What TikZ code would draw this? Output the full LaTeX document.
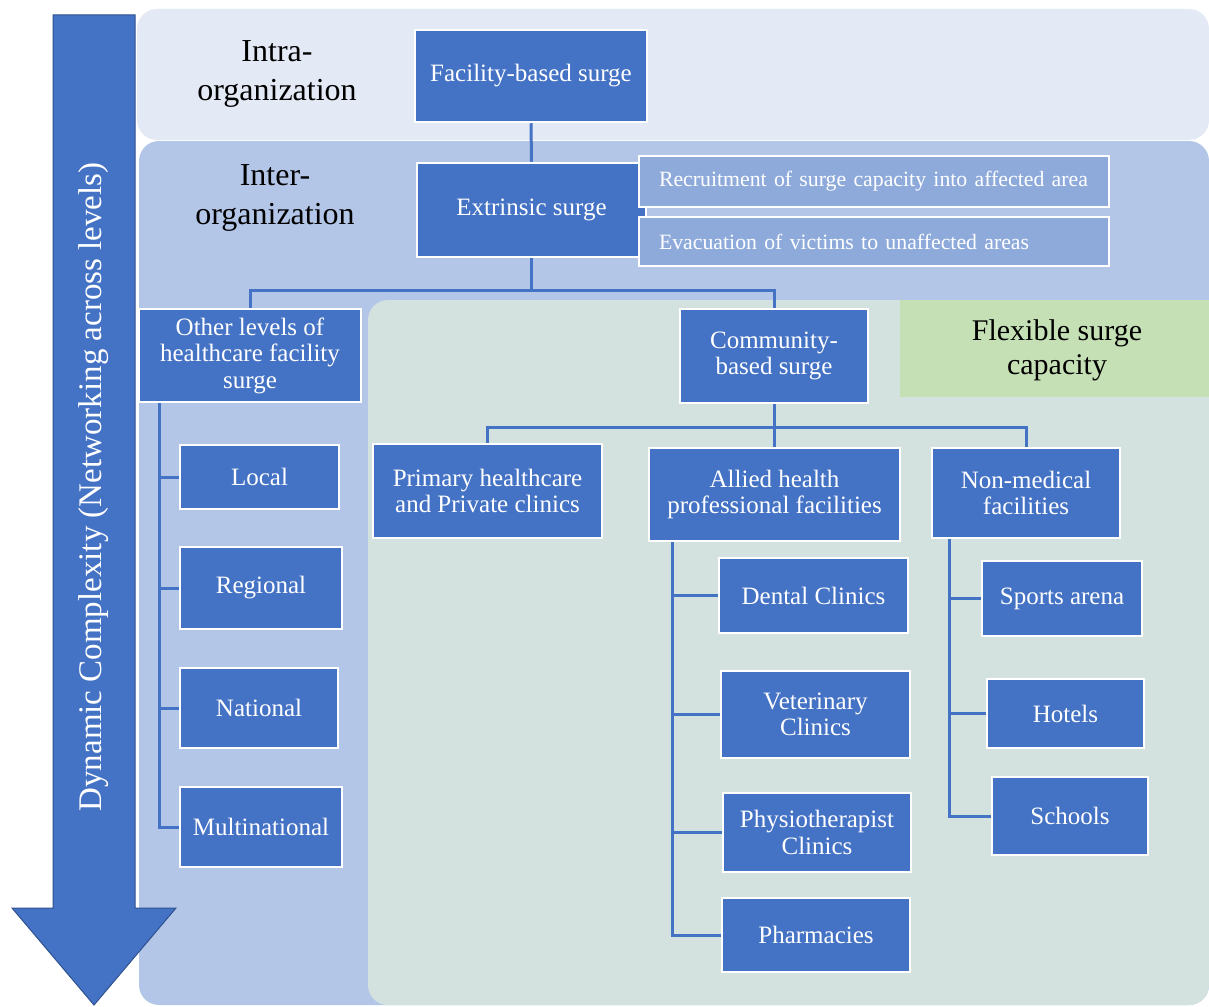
\documentclass[tikz,border=0pt]{standalone}
\usepackage{fontspec}
\setmainfont{Liberation Serif}
\definecolor{boxblue}{HTML}{4472C4}
\definecolor{lightbox}{HTML}{8EAADB}
\definecolor{intrabg}{HTML}{E3E9F5}
\definecolor{interbg}{HTML}{B3C6E7}
\definecolor{greenbg}{HTML}{D4E2DF}
\definecolor{flexbg}{HTML}{C5E0B4}
\definecolor{arrowedge}{HTML}{2F528F}
\pgfdeclarelayer{back}
\pgfdeclarelayer{mid}
\pgfsetlayers{back,mid,main}
\begin{document}
\begin{tikzpicture}[x=1pt,y=-1pt,
  box/.style={draw=white, line width=2.5pt, fill=boxblue, text=white, align=center, inner sep=0pt,
    font=\fontsize{25}{26.5}\selectfont},
  subbox/.style={draw=white, line width=1.5pt, fill=lightbox, text=white, align=left, inner xsep=20pt, inner ysep=0pt,
    text width=430pt, font=\fontsize{21.8}{24}\selectfont},
  conn/.style={draw=boxblue, line width=3pt},
  lvl/.style={align=center, text=black, inner sep=0pt, font=\fontsize{32}{39}\selectfont}]
\useasboundingbox (0,0) rectangle (1209,1006);
% panels
\begin{pgfonlayer}{back}
\fill[intrabg, rounded corners=20pt] (137,9) rectangle (1209,140);
\fill[interbg, rounded corners=20pt] (139,141) rectangle (1209,1005);
\fill[greenbg, rounded corners=20pt] (368,300) rectangle (1209,1005);
\fill[flexbg] (900,300) rectangle (1209,397);
\end{pgfonlayer}
\node[align=center, inner sep=0pt, font=\fontsize{30}{34}\selectfont] (flex) at (1057,350) {Flexible surge\\capacity};
% big arrow
\draw[fill=boxblue, draw=arrowedge, line width=1pt] (53,15) -- (135,15) -- (135,908) -- (176,908) -- (94,1005) -- (12,908) -- (53,908) -- cycle;
\node[rotate=90, text=white, inner sep=0pt, font=\fontsize{33}{36}\selectfont] (dyn) at (94,487) {Dynamic Complexity (Networking across levels)};
% level labels
\node[lvl] (intra) at (277,74) {Intra-\\organization};
\node[lvl] (inter) at (275,198) {Inter-\\organization};
% nodes
\node[box, minimum width=232pt, minimum height=92pt] (fac) at (531,76) {Facility-based surge};
\node[box, minimum width=229pt, minimum height=94pt] (ext) at (531.5,210) {Extrinsic surge};
\node[subbox, minimum height=51pt] (rec) at (874,181.5) {Recruitment of surge capacity into affected area};
\node[subbox, minimum height=49pt] (evac) at (874,241.5) {Evacuation of victims to unaffected areas};
\node[box, minimum width=222pt, minimum height=93pt] (other) at (250,355.5) {Other levels of\\healthcare facility\\surge};
\node[box, minimum width=188pt, minimum height=94pt] (comm) at (774,356) {Community-\\based surge};
\node[box, minimum width=159pt, minimum height=64pt] (local) at (259.5,477) {Local};
\node[box, minimum width=162pt, minimum height=82pt] (regional) at (261,588) {Regional};
\node[box, minimum width=158pt, minimum height=80pt] (national) at (259,708) {National};
\node[box, minimum width=162pt, minimum height=80pt] (multi) at (261,827) {Multinational};
\node[box, minimum width=229pt, minimum height=94pt] (primary) at (487.5,491) {Primary healthcare\\and Private clinics};
\node[box, minimum width=251pt, minimum height=93pt] (allied) at (774.5,494.5) {Allied health\\professional facilities};
\node[box, minimum width=188pt, minimum height=90pt] (nonmed) at (1026,493) {Non-medical\\facilities};
\node[box, minimum width=189pt, minimum height=75pt] (dental) at (813.5,595.5) {Dental Clinics};
\node[box, minimum width=189pt, minimum height=87pt] (vet) at (815.5,714.5) {Veterinary\\Clinics};
\node[box, minimum width=188pt, minimum height=79pt] (physio) at (817,832.5) {Physiotherapist\\Clinics};
\node[box, minimum width=188pt, minimum height=74pt] (pharm) at (816,935) {Pharmacies};
\node[box, minimum width=160pt, minimum height=75pt] (sports) at (1062,598.5) {Sports arena};
\node[box, minimum width=157pt, minimum height=69pt] (hotels) at (1065.5,713.5) {Hotels};
\node[box, minimum width=156pt, minimum height=78pt] (schools) at (1070,816) {Schools};
% connectors
\begin{pgfonlayer}{mid}
\draw[conn] (fac.south) -- (ext.north);
\draw[conn] (ext.south) -- ++(0,32) coordinate (j1);
\draw[conn] (j1) -| (other.north);
\draw[conn] (j1) -| (comm.north);
\draw[conn] (comm.south) -- ++(0,23) coordinate (j2);
\draw[conn] (j2) -| (primary.north);
\draw[conn] (j2) -| (allied.north);
\draw[conn] (j2) -| (nonmed.north);
\draw[draw=boxblue, line width=1.5pt] ([xshift=6pt]rec.south west) -- ([xshift=6pt]evac.north west);
\coordinate (oa) at ([xshift=22pt]other.south west);
\draw[conn] (oa) |- (local.west);
\draw[conn] (oa) |- (regional.west);
\draw[conn] (oa) |- (national.west);
\draw[conn] (oa) |- (multi.west);
\coordinate (aa) at ([xshift=25pt]allied.south west);
\draw[conn] (aa) |- (dental.west);
\draw[conn] (aa) |- (vet.west);
\draw[conn] (aa) |- (physio.west);
\draw[conn] (aa) |- (pharm.west);
\coordinate (na) at ([xshift=19pt]nonmed.south west);
\draw[conn] (na) |- (sports.west);
\draw[conn] (na) |- (hotels.west);
\draw[conn] (na) |- (schools.west);
\end{pgfonlayer}
\end{tikzpicture}
\end{document}
